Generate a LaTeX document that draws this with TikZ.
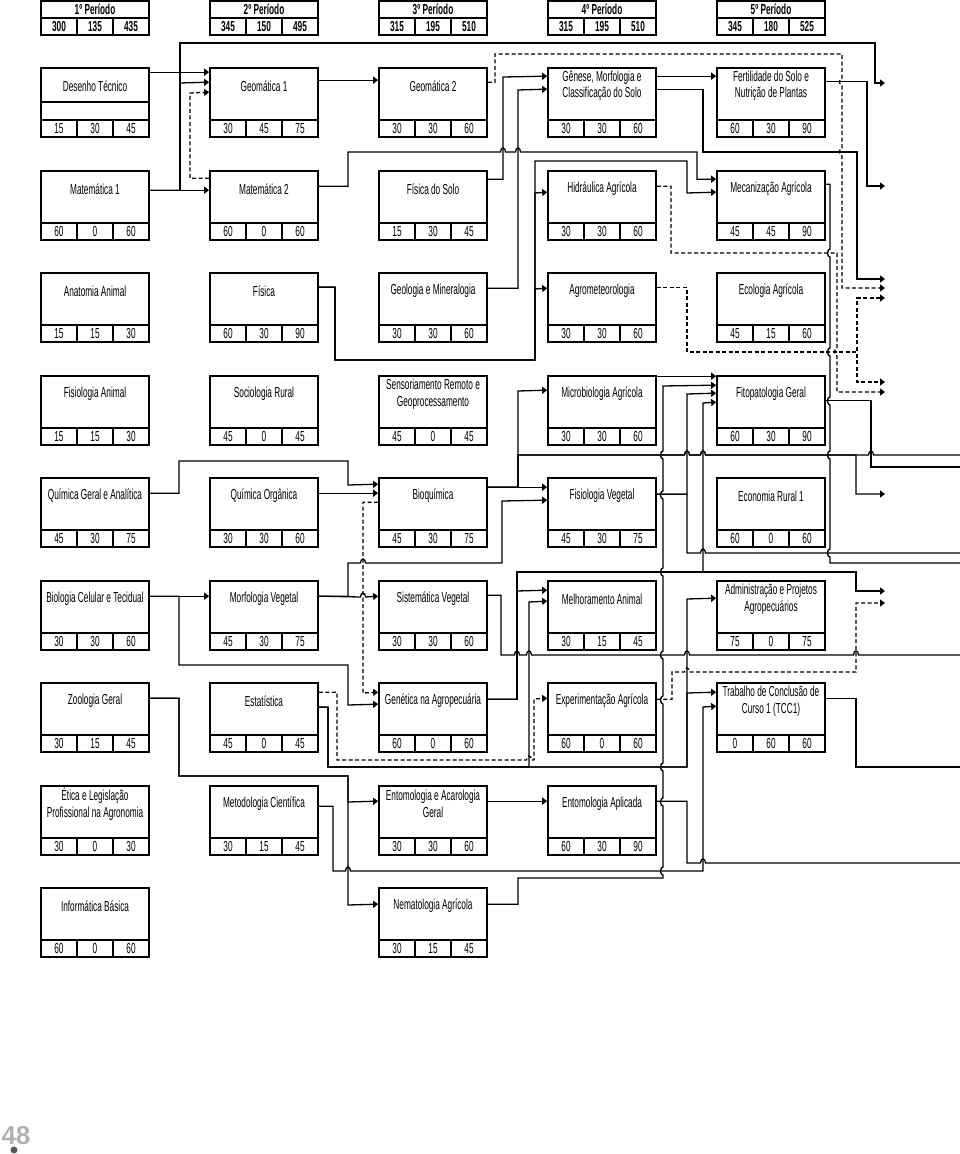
\documentclass[tikz,border=0pt]{standalone}
\usepackage{fontspec}
\setmainfont{Liberation Sans}[FakeStretch=0.57]
\newfontfamily\pagefont{Liberation Sans}
\usepackage{tikz}
\usetikzlibrary{calc}
\usetikzlibrary{arrows.meta}
\tikzstyle{discbox}=[draw=black, line width=1.7pt, shape=rectangle, minimum width=108pt, minimum height=69pt, inner sep=0pt]
\tikzstyle{perbox}=[draw=black, line width=1.7pt, shape=rectangle, minimum width=108pt, minimum height=34pt, inner sep=0pt]
\tikzstyle{disctext}=[align=center, inner sep=0pt, font=\fontsize{14.5}{16.5}\selectfont]
\tikzstyle{numtext}=[inner sep=0pt, anchor=base, font=\fontsize{14.5}{16.5}\selectfont]
\tikzstyle{pertext}=[inner sep=0pt, anchor=base, font=\bfseries\fontsize{14.5}{16.5}\selectfont]
\tikzstyle{cellline}=[line width=1.5pt]
\tikzstyle{link}=[draw=black, line width=1.3pt]
\tikzstyle{dlink}=[draw=black, line width=1.3pt, dash pattern=on 4pt off 2.5pt]
\tikzset{
  hopr/.style={start angle=180, end angle=360, x radius=2.5, y radius=4},
  hopd/.style={start angle=270, end angle=90, x radius=2.5, y radius=4},
  hopu/.style={start angle=90, end angle=270, x radius=2.5, y radius=4}
}
% box of one course: name, left, top, title, T, P, total
\newcommand{\disciplina}[7]{%
  \node[discbox] (#1) at (#2+54,#3+34.5) {};
  \node[disctext] (#1-title) at (#2+54,#3+18) {#4};
  \draw[cellline] (#2,#3+52) -- (#2+108,#3+52);
  \draw[cellline] (#2+36,#3+52) -- (#2+36,#3+69);
  \draw[cellline] (#2+72,#3+52) -- (#2+72,#3+69);
  \node[numtext] (#1-t) at (#2+18,#3+65.7) {#5};
  \node[numtext] (#1-p) at (#2+54,#3+65.7) {#6};
  \node[numtext] (#1-s) at (#2+90,#3+65.7) {#7};
}
% header of one period: name, left, label, T, P, total
\newcommand{\periodo}[6]{%
  \node[perbox] (#1) at (#2+54,18) {};
  \draw[cellline] (#2,18) -- (#2+108,18);
  \draw[cellline] (#2+36,18) -- (#2+36,35);
  \draw[cellline] (#2+72,18) -- (#2+72,35);
  \node[pertext] (#1-title) at (#2+54,14.5) {#3};
  \node[pertext] (#1-t) at (#2+18,31.5) {#4};
  \node[pertext] (#1-p) at (#2+54,31.5) {#5};
  \node[pertext] (#1-s) at (#2+90,31.5) {#6};
}
\begin{document}
\begin{tikzpicture}[x=1pt, y=-1pt, >={Triangle[length=5pt, width=7pt]}]
\useasboundingbox (0,0) rectangle (960,1154);

\periodo{per1}{41}{1º Período}{300}{135}{435}
\periodo{per2}{210}{2º Período}{345}{150}{495}
\periodo{per3}{379}{3º Período}{315}{195}{510}
\periodo{per4}{548}{4º Período}{315}{195}{510}
\periodo{per5}{717}{5º Período}{345}{180}{525}

\disciplina{destec}{41}{68}{Desenho Técnico}{15}{30}{45}
\disciplina{geom1}{210}{68}{Geomática 1}{30}{45}{75}
\disciplina{geom2}{379}{68}{Geomática 2}{30}{30}{60}
\disciplina{genese}{548}{68}{Gênese, Morfologia e\\Classificação do Solo}{30}{30}{60}
\disciplina{fertil}{717}{68}{Fertilidade do Solo e\\Nutrição de Plantas}{60}{30}{90}
\draw[cellline] ($(destec.north west)+(0,35)$) -- ($(destec.north east)+(0,35)$);

\disciplina{mat1}{41}{171}{Matemática 1}{60}{0}{60}
\disciplina{mat2}{210}{171}{Matemática 2}{60}{0}{60}
\disciplina{fissolo}{379}{171}{Física do Solo}{15}{30}{45}
\disciplina{hidra}{548}{171}{Hidráulica Agrícola}{30}{30}{60}
\disciplina{mecan}{717}{171}{Mecanização Agrícola}{45}{45}{90}

\disciplina{anatomia}{41}{273}{Anatomia Animal}{15}{15}{30}
\disciplina{fisica}{210}{273}{Física}{60}{30}{90}
\disciplina{geolog}{379}{273}{Geologia e Mineralogia}{30}{30}{60}
\disciplina{agromet}{548}{273}{Agrometeorologia}{30}{30}{60}
\disciplina{ecolog}{717}{273}{Ecologia Agrícola}{45}{15}{60}

\disciplina{fisanim}{41}{376}{Fisiologia Animal}{15}{15}{30}
\disciplina{sociol}{210}{376}{Sociologia Rural}{45}{0}{45}
\disciplina{sensor}{379}{376}{Sensoriamento Remoto e\\Geoprocessamento}{45}{0}{45}
\disciplina{microb}{548}{376}{Microbiologia Agrícola}{30}{30}{60}
\disciplina{fitopat}{717}{376}{Fitopatologia Geral}{60}{30}{90}

\disciplina{quimger}{41}{478}{Química Geral e Analítica}{45}{30}{75}
\disciplina{quimorg}{210}{478}{Química Orgânica}{30}{30}{60}
\disciplina{bioquim}{379}{478}{Bioquímica}{45}{30}{75}
\disciplina{fisveg}{548}{478}{Fisiologia Vegetal}{45}{30}{75}
\disciplina{econ}{717}{478}{Economia Rural 1}{60}{0}{60}

\disciplina{biocel}{41}{581}{Biologia Celular e Tecidual}{30}{30}{60}
\disciplina{morfveg}{210}{581}{Morfologia Vegetal}{45}{30}{75}
\disciplina{sistveg}{379}{581}{Sistemática Vegetal}{30}{30}{60}
\disciplina{melhor}{548}{581}{Melhoramento Animal}{30}{15}{45}
\disciplina{admin}{717}{581}{Administração e Projetos\\Agropecuários}{75}{0}{75}

\disciplina{zoolog}{41}{683}{Zoologia Geral}{30}{15}{45}
\disciplina{estat}{210}{683}{Estatística}{45}{0}{45}
\disciplina{genetica}{379}{683}{Genética na Agropecuária}{60}{0}{60}
\disciplina{experim}{548}{683}{Experimentação Agrícola}{60}{0}{60}
\disciplina{tcc}{717}{683}{Trabalho de Conclusão de\\Curso 1 (TCC1)}{0}{60}{60}

\disciplina{etica}{41}{786}{Ética e Legislação\\Profissional na Agronomia}{30}{0}{30}
\disciplina{metodol}{210}{786}{Metodologia Científica}{30}{15}{45}
\disciplina{entgeral}{379}{786}{Entomologia e Acarologia\\Geral}{30}{30}{60}
\disciplina{entapl}{548}{786}{Entomologia Aplicada}{60}{30}{90}

\disciplina{informat}{41}{888}{Informática Básica}{60}{0}{60}
\disciplina{nematol}{379}{888}{Nematologia Agrícola}{30}{15}{45}

% ends of the connectors that leave the page
\coordinate (next1) at (885,83);
\coordinate (next2) at (885,186);
\coordinate (next3) at (885,279);
\coordinate (next4) at (885,288);
\coordinate (next5) at (885,298);
\coordinate (next6) at (885,392);
\coordinate (next7) at (885,382);
\coordinate (next8) at (885,494);
\coordinate (next9) at (885,591);
\coordinate (next10) at (885,603);
\coordinate (edge1) at (960,563);
\coordinate (edge2) at (960,467);
\coordinate (edge3) at (960,455);
\coordinate (edge4) at (960,553);
\coordinate (edge5) at (960,655);
\coordinate (edge6) at (960,767);
\coordinate (edge7) at (960,863);

% 1o periodo
\draw[link,->] ($(destec.north east)+(0,5)$) -- ($(geom1.north west)+(0,5)$);
\draw[link,->] ($(mat1.north east)+(0,20)$) -- ($(mat2.north west)+(0,20)$);
\draw[link,->] ($(mat1.north east)+(0,20)$) -| (180,83) -- ($(geom1.north west)+(0,15)$);
\draw[link,->] ($(mat1.north east)+(0,20)$) -| (180,43) -| (875,83) -- (next1);
\draw[link,->] ($(quimger.north east)+(0,16)$) -| (179,461) -| (348,485) -- ($(bioquim.north west)+(0,7)$);
\draw[link,->] ($(biocel.north east)+(0,16)$) -- ($(morfveg.north west)+(0,16)$);
\draw[link,->] ($(biocel.north east)+(0,16)$) -| (179,665) -| (348,705) -- ($(genetica.north west)+(0,22)$);
\draw[link,->] ($(zoolog.north east)+(0,16)$) -| (179,776) -| (348,802) -- ($(entgeral.north west)+(0,16)$);
\draw[link,->] ($(zoolog.north east)+(0,16)$) -| (179,776) -| (348,905) -- ($(nematol.north west)+(0,17)$);

% 2o periodo
\draw[link,->] ($(geom1.north east)+(0,13)$) -- ($(geom2.north west)+(0,13)$);
\draw[dlink,->] ($(mat2.north west)+(0,8)$) -| (190,93) -- ($(geom1.north west)+(0,25)$);
\draw[link,->] ($(mat2.north east)+(0,16)$) -| (348,152) -- (500.5,152) arc[hopr] -- (515.5,152) arc[hopr] -- (697,152) |- ($(mecan.north west)+(0,9)$);
\draw[link,->] ($(fisica.north east)+(0,15)$) -| (335,360) -| (535,161) -| (687,193) -- ($(mecan.north west)+(0,22)$);
\draw[link,->] ($(fisica.north east)+(0,15)$) -| (335,360) -| (535,193) -- ($(hidra.north west)+(0,22)$);
\draw[link,->] ($(fisica.north east)+(0,15)$) -| (335,360) -| (535,289) -- ($(agromet.north west)+(0,16)$);
\draw[link,->] ($(quimorg.north east)+(0,16)$) -- ($(bioquim.north west)+(0,16)$);
\draw[link,->] ($(morfveg.north east)+(0,16)$) -- (360.5,597) arc[hopr] -- ($(sistveg.north west)+(0,16)$);
\draw[link,->] ($(morfveg.north east)+(0,16)$) -| (348,563) -- (360.5,563) arc[hopr] -| (502,501) -- ($(fisveg.north west)+(0,23)$);
\draw[link,->] ($(estat.north east)+(0,25)$) -| (328,767) -| (529,602) -- ($(melhor.north west)+(0,21)$);
\draw[link,->] ($(estat.north east)+(0,25)$) -| (328,767) -| (687,599) -- ($(admin.north west)+(0,18)$);
\draw[link,->] ($(estat.north east)+(0,25)$) -| (328,767) -| (687,693) -- ($(tcc.north west)+(0,10)$);
\draw[dlink,->] ($(estat.north east)+(0,10)$) -| (337,760) -- (526.5,760) arc[hopr] -| (534,699) -- ($(experim.north west)+(0,16)$);
\draw[link,->] ($(metodol.north east)+(0,21)$) -| (333,871) -- (345.5,871) arc[hopr] -| (703,707) -- ($(tcc.north west)+(0,24)$);

% 3o periodo
\draw[dlink,->] ($(geom2.north east)+(0,15)$) -| (495,54) -| (842,78) arc[hopd] -- (842,148) arc[hopd] -- (842,288) -- (next4);
\draw[link,->] ($(fissolo.north east)+(0,9)$) -| (503,77) -- ($(genese.north west)+(0,9)$);
\draw[link,->] ($(geolog.north east)+(0,16)$) -| (518,90) -- ($(genese.north west)+(0,22)$);
\draw[link,->] ($(bioquim.north east)+(0,10)$) -- ($(fisveg.north west)+(0,10)$);
\draw[link,->] ($(bioquim.north east)+(0,10)$) -| (518,391) -- ($(microb.north west)+(0,15)$);
\draw[link,->] ($(bioquim.north east)+(0,10)$) -| (518,455) -- (684.5,455) arc[hopr] -- (700.5,455) arc[hopr] -| (856,494) -- (next8);
\draw[link] ($(bioquim.north east)+(0,10)$) -| (518,455) -- (684.5,455) arc[hopr] -- (700.5,455) arc[hopr] -- (868.5,455) arc[hopr] -- (edge3);
\draw[dlink,->] ($(bioquim.north west)+(0,25)$) -| (363,693) -- ($(genetica.north west)+(0,10)$);
\draw[link] ($(sistveg.north east)+(0,15)$) -| (501,655) -- (514.5,655) arc[hopr] -- (526.5,655) arc[hopr] -- (684.5,655) arc[hopr] -- (853.5,655) arc[hopr] -- (edge5);
\draw[link,->] ($(genetica.north east)+(0,17)$) -| (517,591) -- ($(melhor.north west)+(0,10)$);
\draw[link,->] ($(genetica.north east)+(0,17)$) -| (517,572) -| (703,403) -- ($(fitopat.north west)+(0,27)$);
\draw[link,->] ($(genetica.north east)+(0,17)$) -| (517,572) -| (856,591) -- (next9);
\draw[link,->] ($(entgeral.north east)+(0,16)$) -- ($(entapl.north west)+(0,16)$);
\draw[link,->] ($(nematol.north east)+(0,17)$) -| (518,878) -| (663,875) arc[hopu] -- (663,806) arc[hopu] -- (663,771) arc[hopu] -- (663,704) arc[hopu] -- (663,659) arc[hopu] -- (663,576) arc[hopu] -- (663,499) arc[hopu] -- (663,459) arc[hopu] -- (663,386) -- ($(fitopat.north west)+(0,10)$);

% 4o periodo
\draw[link,->] ($(genese.north east)+(0,9)$) -- ($(fertil.north west)+(0,9)$);
\draw[link,->] ($(genese.north east)+(0,22)$) -| (703,152) -| (857,279) -- (next3);
\draw[dlink,->] ($(hidra.north east)+(0,16)$) -| (671,253) -| (837,348) arc[hopd] -- (837,392) -- (next6);
\draw[dlink,->] ($(agromet.north east)+(0,15)$) -| (687,352) -| (857,298) -- (next5);
\draw[dlink,->] ($(agromet.north east)+(0,15)$) -| (687,352) -| (857,382) -- (next7);
\draw[link,->] ($(microb.north east)+(0,1)$) -- ($(fitopat.north west)+(0,1)$);
\draw[link,->] ($(fisveg.north east)+(0,17)$) -| (687,394) -- ($(fitopat.north west)+(0,18)$);
\draw[link] ($(fisveg.north east)+(0,17)$) -| (687,553) -- (700.5,553) arc[hopr] -- (edge4);
\draw[dlink,->] ($(experim.north east)+(0,17)$) -| (672,672) -- (684.5,672) arc[hopr] -| (856,603) -- (next10);
\draw[link] ($(entapl.north east)+(0,16)$) -| (687,863) -- (700.5,863) arc[hopr] -- (edge7);

% 5o periodo
\draw[link,->] ($(fertil.north east)+(0,14)$) -| (867,186) -- (next2);
\draw[link] ($(mecan.north east)+(0,14)$) -| (830,249) arc[hopd] -- (830,348) arc[hopd] -- (830,397) arc[hopd] -- (830,451) arc[hopd] -- (830,549) arc[hopd] |- (edge1);
\draw[link] ($(fitopat.north east)+(0,25)$) -| (871,467) -- (edge2);
\draw[link] ($(tcc.north east)+(0,16)$) -| (856,767) -- (edge6);

\node[font=\pagefont\bfseries\fontsize{26}{26}\selectfont, text=gray!60, inner sep=0pt] (pagenum) at (16,1136) {48};
\node[circle, fill=gray!70!black, minimum size=7pt, inner sep=0pt] (pagedot) at (14,1150) {};
\end{tikzpicture}
\end{document}
